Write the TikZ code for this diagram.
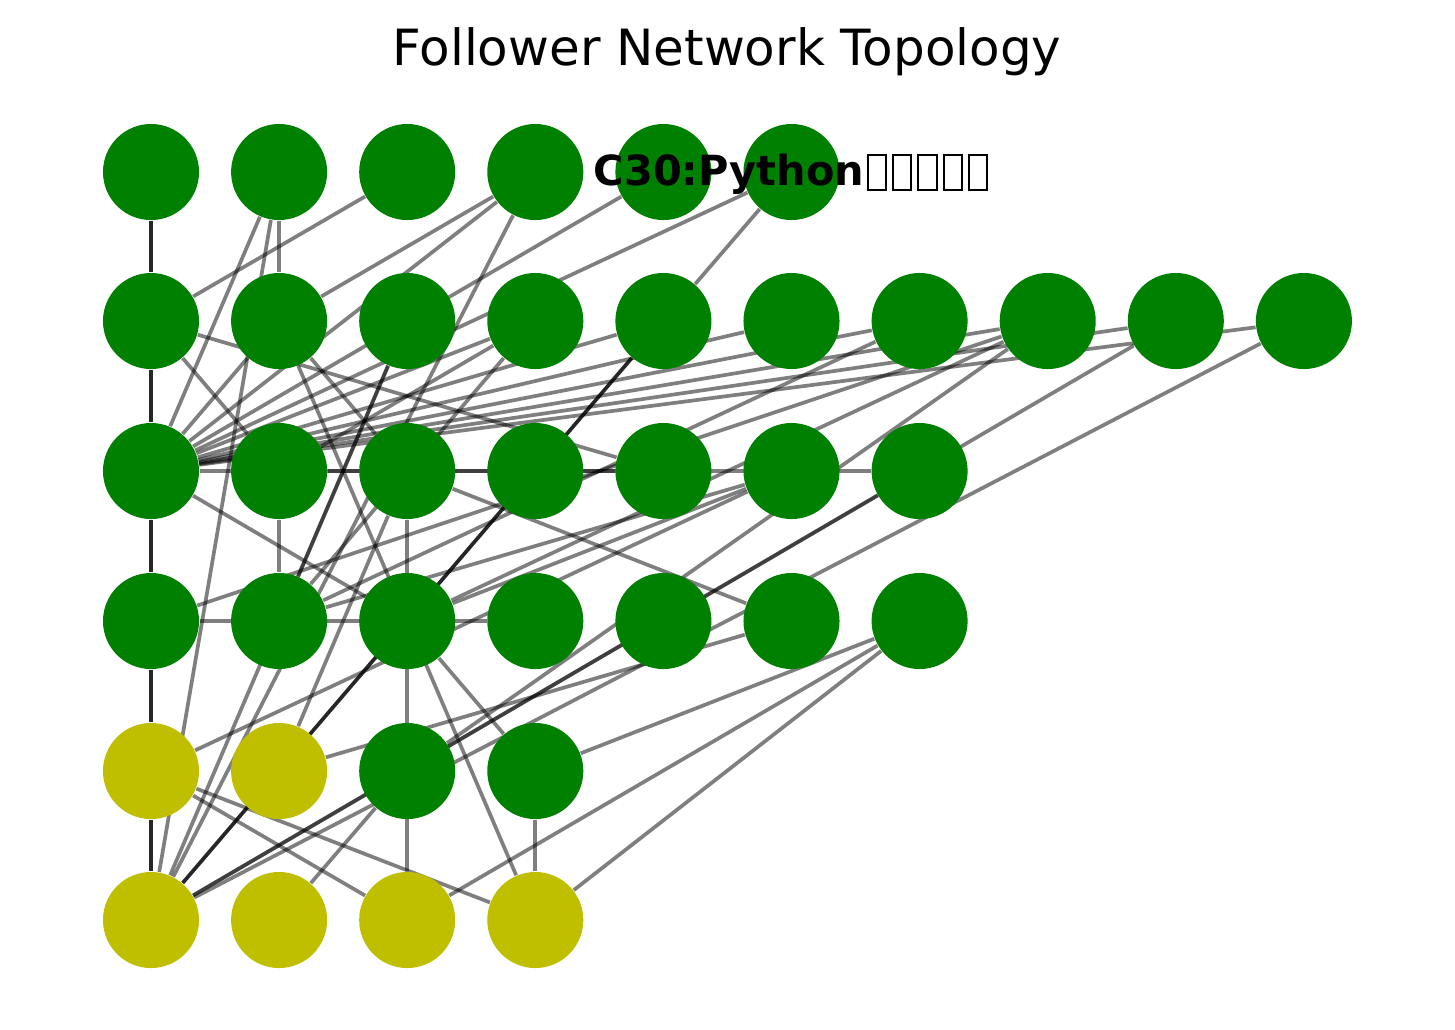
\documentclass[tikz,border=0pt]{standalone}
\usepackage{fontspec}
\setmainfont{DejaVu Sans}
\usetikzlibrary{backgrounds}
\definecolor{nodegreen}{RGB}{0,128,0}
\definecolor{nodeyellow}{RGB}{191,191,0}
\tikzset{
  greenvertex/.style={circle,fill=nodegreen,draw=none,minimum size=0.96cm,inner sep=0pt},
  yellowvertex/.style={circle,fill=nodeyellow,draw=none,minimum size=0.96cm,inner sep=0pt},
  edge/.style={draw=black,opacity=0.5,line width=1.05pt},
  heavyedge/.style={draw=black,opacity=0.85,line width=1.05pt}
}
\newcommand{\tofu}{\kern0.7pt\setlength{\fboxsep}{0pt}\setlength{\fboxrule}{0.6pt}\raisebox{-1.1pt}{\fbox{\rule{0pt}{9.4pt}\kern4.6pt}}\kern0.7pt}
\begin{document}
\begin{tikzpicture}[x=0.01cm,y=-0.01cm]
    \useasboundingbox (0,0) rectangle (1455,1029);

    % rows of users
    \foreach \c in {0,...,5}
        \node[greenvertex] (a\c) at ({151+128.1*\c},172) {};
    \foreach \c in {0,...,9}
        \node[greenvertex] (b\c) at ({151+128.1*\c},321) {};
    \foreach \c in {0,...,6}
        \node[greenvertex] (c\c) at ({151+128.1*\c},471) {};
    \foreach \c in {0,...,6}
        \node[greenvertex] (d\c) at ({151+128.1*\c},621) {};
    \foreach \c/\s in {0/yellowvertex,1/yellowvertex,2/greenvertex,3/greenvertex}
        \node[\s] (e\c) at ({151+128.1*\c},771) {};
    \foreach \c in {0,...,3}
        \node[yellowvertex] (f\c) at ({151+128.1*\c},920) {};

    \node (title) at (727,52) {\fontsize{14.2}{16}\selectfont Follower Network Topology};
    \node[anchor=base west, inner sep=0pt] (label) at (593,185)
        {\fontsize{11.8}{14}\selectfont\bfseries C30:Python\tofu\tofu\tofu\tofu\tofu};

    \begin{pgfonlayer}{background}
    \foreach \source/\dest in {a0/b0,b0/c0,c0/d0,d0/e0,e0/f0,b4/f0}
        \path[heavyedge] (\source) -- (\dest);
    \foreach \source/\dest in {a1/c0,a1/f0,a1/b1,a2/b0,a3/b1,a3/c0,a3/f0,a4/c0,a5/c0,a5/b4,
        b0/c1,b0/c4,b1/c0,b1/f3,b1/c2,b2/d1,b2/f0,
        c0/b3,c0/b4,c0/b5,c0/b6,c0/b7,c0/b8,c0/b9,c1/b3,d1/b3,
        c0/d2,c1/d1,c2/f2,c0/c6,c1/c4,d0/d3,c2/d5,c2/e1,d2/e3,
        e0/c5,e0/f2,e0/f3,e1/d5,f1/e2,e3/f3,
        b7/e2,b8/f0,b9/f0,f0/c6,d6/f3,d6/f2,d6/e3,
        d1/b6,d1/c5,d2/b7,d2/c5,d0/b7}
        \path[edge] (\source) -- (\dest);
    \end{pgfonlayer}
\end{tikzpicture}
\end{document}
